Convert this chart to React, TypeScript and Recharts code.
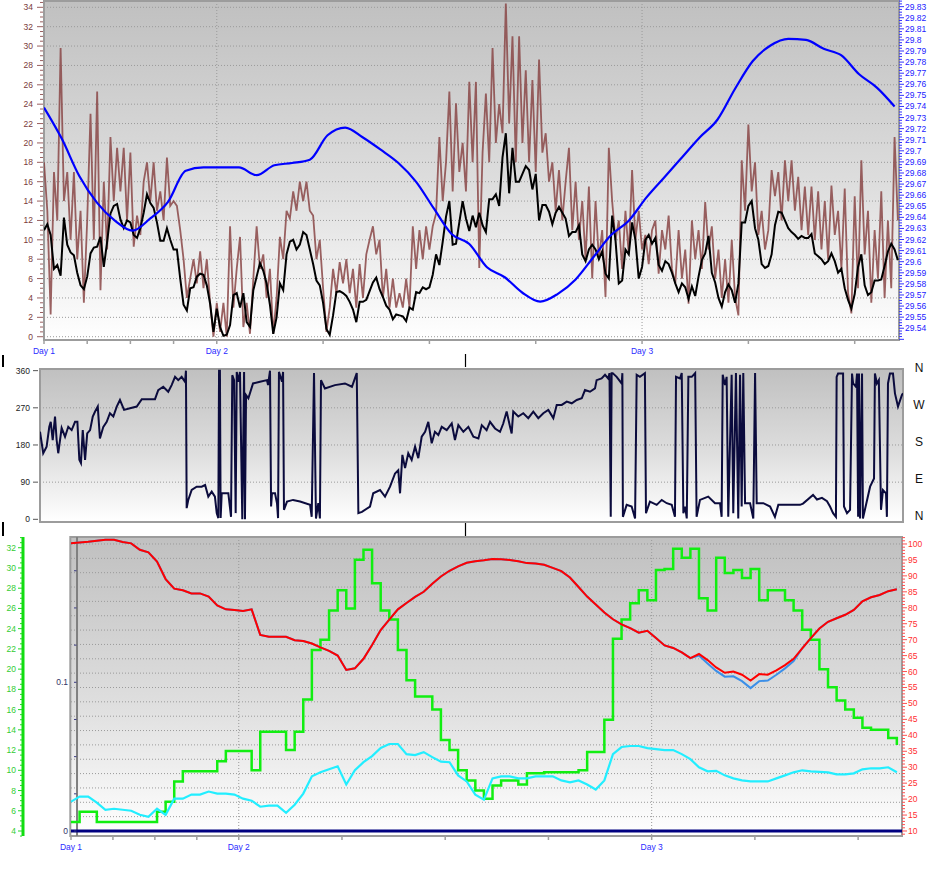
import React from "react"
import { LineChart, Line, XAxis, YAxis, CartesianGrid, ReferenceArea, ReferenceLine } from "recharts"

// time axis is hours since the first sample
const dayTicks = [0, 9.75, 33.75]
const dayLabels = ["Day 1", "Day 2", "Day 3"]
const hourTicks = [0, 2.4375, 4.875, 7.3125, 9.75, 15.75, 21.75, 27.75, 33.75, 39.75, 45.75]

// wind speed (avg + gust), one sample every 0.1875 h
const WIND_STEP = 0.1875
const windAvg = [
  11.0, 11.6, 10.5, 7.0, 7.4, 6.3, 12.3, 9.5, 8.7, 8.4,
  6.6, 5.3, 4.9, 6.2, 8.6, 9.2, 9.3, 10.3, 7.2, 9.8,
  12.7, 13.5, 13.7, 12.1, 11.2, 12.0, 11.8, 10.5, 10.2, 11.2,
  12.8, 14.7, 13.8, 13.3, 11.8, 9.9, 9.9, 11.2, 10.0, 9.0,
  9.0, 6.0, 3.3, 2.7, 5.0, 5.1, 6.2, 6.5, 6.4, 5.3,
  3.4, 0.5, 2.9, 1.0, 0.1, 0.2, 1.2, 4.3, 4.5, 3.0,
  4.5, 1.5, 1.0, 4.8, 6.2, 7.6, 6.8, 5.5, 3.3, 0.3,
  2.0, 5.5, 4.8, 8.5, 9.8, 10.0, 9.0, 9.5, 10.8, 10.5,
  9.0, 7.5, 5.8, 5.3, 3.5, 0.8, 0.2, 2.2, 4.6, 4.7,
  4.5, 4.2, 3.6, 2.8, 1.5, 3.6, 3.6, 3.8, 4.7, 5.6,
  6.1, 4.9, 4.1, 3.2, 2.8, 1.8, 2.3, 2.2, 2.1, 1.6,
  3.0, 2.8, 4.6, 4.5, 5.1, 4.9, 5.1, 6.4, 8.5, 7.4,
  9.8, 12.4, 14.0, 9.5, 9.6, 11.8, 14.0, 12.2, 10.9, 12.5,
  11.3, 12.8, 11.5, 10.8, 14.2, 14.2, 14.7, 13.5, 18.5, 21.0,
  14.8, 19.5, 16.0, 16.0, 16.8, 17.6, 17.2, 15.2, 16.8, 12.0,
  13.6, 13.6, 12.9, 11.6, 12.8, 13.4, 12.8, 12.2, 10.4, 10.8,
  10.8, 11.5, 8.5, 7.8, 9.0, 9.5, 9.0, 8.0, 8.8, 6.5,
  6.0, 12.5, 10.0, 5.5, 5.8, 9.0, 8.5, 11.8, 10.0, 6.0,
  7.2, 10.0, 10.5, 9.6, 10.2, 7.4, 6.8, 7.8, 7.5, 6.6,
  5.5, 4.6, 5.5, 5.1, 3.9, 5.2, 4.2, 6.2, 7.9, 8.6,
  10.4, 6.6, 5.6, 4.0, 3.1, 4.6, 5.4, 4.8, 3.5, 5.5,
  11.8, 11.8, 13.5, 14.0, 11.2, 10.0, 7.5, 7.1, 7.3, 8.5,
  11.5, 12.9, 12.8, 12.0, 11.2, 10.8, 10.5, 10.1, 10.4, 10.2,
  10.2, 10.6, 8.6, 8.3, 8.0, 7.5, 7.8, 8.6, 7.8, 6.6,
  7.0, 5.0, 3.8, 2.9, 4.4, 7.2, 8.5, 5.3, 4.3, 4.6,
  5.8, 5.8, 5.9, 7.3, 8.8, 9.6, 9.0, 7.9,
]
const windGust = [
  18, 13, 2.3, 17, 12, 29.8, 14, 17, 10, 17,
  8, 13, 3.5, 12, 23, 10, 25.3, 4.8, 16, 9,
  20.6, 14, 19.5, 15, 19.5, 12, 19, 9.3, 12.5, 10.5,
  16, 18, 14, 18, 13, 15, 12, 18.5, 13.5, 14,
  13.5, 11, 8, 4, 6, 8, 5.5, 8.8, 5, 8,
  3.5, 0, 3.5, 0.5, 3.5, 0, 11.4, 3, 7, 10.3,
  1, 3.5, 0.3, 6, 11.4, 7, 8.5, 4, 7, 0.3,
  4, 10.3, 8, 13, 12.2, 15, 13, 16, 14, 16,
  13, 12.5, 8, 10, 5, 0.5, 3, 7, 4.5, 7.7,
  5.5, 8, 4.5, 7, 3, 7.5, 4, 8.5, 10, 11.4,
  8.5, 10, 4, 7, 3, 6, 3, 4.5, 3, 6,
  3, 11.4, 7, 11, 8, 11.4, 9, 11.4, 12.7, 20.6,
  14, 18, 25.3, 15, 24.1, 17, 20, 15, 26.3, 18,
  26.3, 7.1, 19, 25.1, 18, 29.8, 20, 24, 21, 34.4,
  22, 31, 18, 31, 20, 27.5, 18, 26.5, 17, 28.6,
  19, 21, 16, 18, 13, 17.2, 12, 16, 19.5, 11,
  16, 10, 14, 8, 15.5, 6, 14, 8, 11, 4.1,
  19.5, 14, 10, 12, 7, 13, 8.5, 17.2, 10, 13,
  9, 10.5, 7.5, 11, 12, 6.5, 11, 9, 12.5, 7,
  5.5, 11, 6, 9, 3.4, 12, 8, 11, 7, 13.9,
  9, 11.4, 6, 9, 4, 8, 3.5, 10, 4, 2.2,
  18.2, 13, 21.9, 15, 18, 10.5, 13, 9, 11, 17.2,
  14.5, 17, 12, 18.2, 14, 18.2, 13, 16.5, 11, 15.5,
  10.5, 15.5, 10, 15, 9, 14, 8, 15.6, 10.5, 13,
  7, 15.3, 4.5, 2.4, 14.5, 5, 18.2, 8.5, 13, 3.5,
  11, 6, 15, 4, 12, 5, 20.6, 12,
]

// barometer, hourly
const PRESSURE_STEP = 1
const pressure = [
  29.739, 29.711, 29.677, 29.653, 29.637, 29.628, 29.639, 29.654, 29.682, 29.685,
  29.685, 29.685, 29.678, 29.687, 29.689, 29.692, 29.714, 29.721, 29.712, 29.701,
  29.689, 29.672, 29.648, 29.625, 29.616, 29.595, 29.586, 29.572, 29.564, 29.571,
  29.584, 29.604, 29.624, 29.637, 29.658, 29.676, 29.694, 29.712, 29.728, 29.756,
  29.781, 29.795, 29.801, 29.8, 29.792, 29.786, 29.769, 29.757, 29.74,
]

// wind direction [hour, degrees]
const windDir: [number, number][] = [
  [0, 212], [0.18, 160], [0.37, 176], [0.52, 224], [0.6, 236], [0.71, 192], [0.84, 249], [0.93, 192], [1.02, 160],
  [1.21, 221], [1.4, 200], [1.58, 224], [1.77, 216], [1.96, 236], [2.09, 236], [2.2, 144], [2.29, 136], [2.39, 216],
  [2.52, 144], [2.64, 208], [2.8, 216], [2.95, 249], [3.08, 261], [3.23, 273], [3.35, 196], [3.54, 224], [3.73, 236],
  [3.91, 257], [4.1, 249], [4.29, 273], [4.47, 289], [4.7, 265], [5.03, 269], [5.41, 273], [5.69, 291], [6.05, 291],
  [6.43, 291], [6.61, 313], [6.89, 321], [7.17, 309], [7.36, 325], [7.55, 345], [7.73, 337], [7.92, 345], [8.11, 333],
  [8.16, 360], [8.2, 27], [8.29, 47], [8.48, 71], [8.76, 79], [9.04, 79], [9.23, 83], [9.41, 55], [9.6, 67], [9.78, 55],
  [9.88, 15], [9.97, 3], [10.01, 360], [10.06, 360], [10.1, 3], [10.16, 63], [10.53, 63], [10.68, 6], [10.75, 349],
  [10.85, 337], [10.94, 15], [11.0, 357], [11.09, 333], [11.18, 357], [11.31, 0], [11.41, 357], [11.46, 0], [11.52, 301],
  [11.65, 293], [11.91, 329], [12.3, 333], [12.69, 337], [12.75, 325], [12.86, 360], [12.92, 31], [12.97, 63], [13.14, 63],
  [13.25, 39], [13.31, 3], [13.36, 357], [13.53, 333], [13.59, 357], [13.64, 23], [13.81, 43], [14.15, 47], [14.54, 43],
  [15.1, 35], [15.19, 6], [15.32, 354], [15.43, 2], [15.56, 39], [15.65, 2], [15.71, 337], [15.93, 317], [16.49, 325],
  [17.05, 329], [17.44, 321], [17.71, 354], [17.8, 15], [18.0, 18], [18.45, 31], [18.63, 63], [19.01, 71], [19.29, 55],
  [19.57, 79], [19.85, 111], [20.03, 119], [20.13, 63], [20.26, 156], [20.41, 124], [20.59, 160], [20.78, 144], [20.97, 176],
  [21.15, 148], [21.34, 200], [21.53, 212], [21.71, 236], [21.9, 184], [22.08, 212], [22.27, 204], [22.46, 224], [22.74, 216],
  [23.02, 232], [23.2, 192], [23.39, 228], [23.67, 212], [23.95, 224], [24.23, 200], [24.51, 196], [24.7, 228], [24.97, 216],
  [25.16, 236], [25.44, 220], [25.72, 212], [25.9, 232], [26.09, 261], [26.28, 224], [26.37, 208], [26.46, 261], [26.74, 249],
  [27.02, 257], [27.3, 245], [27.58, 261], [27.86, 245], [28.14, 257], [28.42, 265], [28.7, 245], [28.89, 277], [29.17, 277],
  [29.45, 285], [29.73, 281], [30.01, 289], [30.29, 293], [30.47, 313], [30.75, 309], [31.03, 317], [31.12, 337], [31.4, 341],
  [31.59, 350], [31.77, 341], [31.84, 354], [31.91, 6], [31.96, 354], [32.02, 354], [32.24, 345], [32.52, 329], [32.56, 354],
  [32.59, 6], [32.8, 35], [33.08, 31], [33.27, 2], [33.36, 350], [33.54, 345], [33.82, 354], [33.88, 15], [34.1, 43],
  [34.48, 35], [34.76, 47], [35.04, 39], [35.32, 35], [35.5, 6], [35.56, 345], [35.78, 341], [35.88, 354], [35.97, 15],
  [36.07, 31], [36.16, 2], [36.25, 345], [36.44, 345], [36.63, 354], [36.71, 6], [36.9, 47], [37.36, 55], [37.74, 39],
  [38.02, 39], [38.11, 6], [38.17, 350], [38.3, 325], [38.39, 345], [38.48, 6], [38.67, 350], [38.76, 15], [38.91, 354],
  [39.04, 2], [39.14, 350], [39.23, 31], [39.32, 354], [39.42, 39], [39.7, 39], [39.88, 2], [39.98, 354], [40.07, 39],
  [40.44, 39], [40.82, 31], [41.09, 6], [41.28, 35], [41.93, 35], [42.49, 35], [42.66, 38], [43.22, 59], [43.44, 48],
  [43.72, 52], [44.0, 44], [44.17, 31], [44.34, 15], [44.5, 6], [44.54, 345], [44.62, 353], [44.9, 353], [44.95, 31],
  [45.12, 15], [45.29, 23], [45.4, 353], [45.46, 329], [45.62, 321], [45.68, 353], [45.74, 6], [45.79, 353], [45.85, 2],
  [45.96, 353], [46.01, 2], [46.41, 79], [46.63, 99], [46.68, 353], [46.79, 329], [46.9, 337], [47.02, 23], [47.13, 71],
  [47.3, 63], [47.35, 6], [47.41, 329], [47.52, 353], [47.69, 353], [47.8, 305], [47.97, 273], [48.19, 301], [48.25, 305],
]
const compassTicks = [0, 90, 180, 270, 360]
const compassLabels = ["N", "E", "S", "W", "N"]

// humidity / temperature / dew point, every half hour
const CLIMATE_STEP = 0.5
const humidity = [
  100.2, 100.5, 100.7, 101.0, 101.3, 101.3, 100.6, 100.2, 98.2, 97.4,
  94.5, 89.0, 86.0, 85.5, 84.5, 84.5, 83.5, 80.7, 79.5, 79.3,
  79.0, 79.5, 71.5, 70.9, 70.9, 70.9, 69.8, 69.6, 68.8, 67.6,
  66.5, 65.0, 60.5, 61.0, 64.0, 68.3, 73.0, 76.3, 79.5, 81.5,
  83.4, 85.0, 87.5, 89.8, 91.6, 93.0, 94.1, 94.6, 94.9, 95.3,
  95.2, 95.0, 94.6, 94.0, 93.9, 93.5, 92.5, 91.5, 89.5, 86.5,
  83.5, 81.0, 78.5, 76.4, 74.8, 73.6, 72.2, 72.8, 70.5, 68.2,
  67.4, 66.0, 64.2, 65.5, 63.6, 61.3, 59.6, 60.0, 59.0, 57.2,
  59.2, 59.0, 60.4, 62.0, 64.0, 67.3, 70.5, 73.5, 75.6, 76.7,
  77.8, 79.3, 82.0, 83.3, 84.0, 85.2, 85.8,
]
const humidityAlt = [
  100.2, 100.5, 100.7, 101.0, 101.3, 101.3, 100.6, 100.2, 98.2, 97.4,
  94.5, 89.0, 86.0, 85.5, 84.5, 84.5, 83.5, 80.7, 79.5, 79.3,
  79.0, 79.5, 71.5, 70.9, 70.9, 70.9, 69.8, 69.6, 68.8, 67.6,
  66.5, 65.0, 60.5, 61.0, 64.0, 68.3, 73.0, 76.3, 79.5, 81.5,
  83.4, 85.0, 87.5, 89.8, 91.6, 93.0, 94.1, 94.6, 94.9, 95.3,
  95.2, 95.0, 94.6, 94.0, 93.9, 93.5, 92.5, 91.5, 89.5, 86.5,
  83.5, 81.0, 78.5, 76.4, 74.8, 73.6, 72.2, 72.8, 70.5, 68.2,
  67.4, 66.0, 64.2, 65.0, 62.5, 60.2, 58.4, 58.5, 57.0, 54.8,
  57.0, 57.2, 59.0, 61.0, 63.3, 67.3, 70.5, 73.5, 75.6, 76.7,
  77.8, 79.3, 82.0, 83.3, 84.0, 85.2, 85.8,
]
const temperature = [
  4.9, 5.9, 5.9, 4.9, 4.9, 4.9, 4.9, 4.9, 4.9, 4.9,
  5.9, 6.9, 8.9, 9.9, 9.9, 9.9, 9.9, 10.9, 11.9, 11.9,
  11.9, 10.0, 13.8, 13.8, 13.8, 12.0, 13.8, 17.0, 21.9, 22.9,
  25.8, 27.8, 26.0, 30.8, 31.8, 28.5, 25.8, 24.9, 21.9, 18.9,
  17.3, 17.3, 16.0, 13.0, 12.0, 10.0, 9.0, 8.0, 7.2, 8.5,
  9.0, 9.0, 8.6, 9.7, 9.7, 9.8, 9.8, 9.8, 9.8, 10.0,
  11.8, 11.8, 15.0, 23.0, 24.9, 26.5, 27.8, 26.8, 29.8, 29.9,
  31.9, 31.0, 31.9, 27.0, 25.8, 31.0, 29.5, 29.8, 29.0, 29.9,
  26.8, 27.8, 27.8, 26.8, 25.8, 23.9, 22.9, 20.0, 18.2, 16.9,
  16.0, 15.2, 14.2, 14.0, 14.0, 13.2, 12.5,
]
const dewPoint = [
  6.9, 7.4, 7.4, 6.8, 6.1, 6.2, 6.1, 6.0, 5.6, 5.4,
  6.2, 5.6, 7.2, 7.2, 7.6, 7.6, 7.9, 7.7, 7.7, 7.6,
  7.2, 7.0, 6.4, 6.5, 6.5, 5.8, 6.6, 7.7, 9.4, 9.8,
  10.1, 10.4, 8.6, 10.0, 10.8, 11.4, 12.2, 12.6, 12.6, 11.6,
  11.5, 11.8, 11.3, 10.85, 10.8, 9.5, 8.9, 7.6, 7.1, 9.2,
  9.4, 9.4, 9.2, 9.2, 9.4, 9.4, 9.4, 9.0, 8.8, 9.0,
  8.6, 8.1, 9.0, 11.6, 12.3, 12.4, 12.4, 12.2, 12.1, 12.0,
  12.0, 11.6, 11.1, 10.3, 9.9, 9.95, 9.5, 9.2, 9.0, 8.9,
  8.9, 8.9, 9.2, 9.5, 9.8, 10.0, 9.9, 9.85, 9.8, 9.6,
  9.6, 9.7, 10.1, 10.2, 10.2, 10.3, 9.8,
]
// rain [hour, inches]
const rain: [number, number][] = [[0, 0], [12, 0], [24, 0], [36, 0], [48.3, 0]]

const series = (vals: number[], step: number) => vals.map((v, i) => ({ t: +(i * step).toFixed(4), v }))
const pairs = (p: [number, number][]) => p.map(([t, v]) => ({ t, v }))
const range = (a: number, b: number, s: number) => {
  const out: number[] = []
  for (let k = 0; a + k * s <= b + 1e-9; k++) out.push(+(a + k * s).toFixed(4))
  return out
}
const near = (v: number, s: number) => Math.abs(v / s - Math.round(v / s)) < 1e-6

type TickOpts = {
  major: (v: number) => boolean
  label: (v: number) => string | null
  textX: number
  anchor: "start" | "end" | "middle"
  tick?: [number, number]
  minor?: [number, number]
  color: string
  tickColor?: string
  fontSize?: number
  dy?: number
}

const makeYTick = (o: TickOpts) => (props: any) => {
  const { y, payload } = props
  const v = payload.value
  const isMajor = o.major(v)
  const seg = isMajor ? o.tick : o.minor
  const text = isMajor ? o.label(v) : null
  return (
    <g>
      {seg && <line x1={seg[0]} x2={seg[1]} y1={y} y2={y} stroke={o.tickColor} strokeWidth={1} />}
      {text != null && (
        <text x={o.textX} y={y} dy={o.dy ?? 3} textAnchor={o.anchor} fontSize={o.fontSize ?? 8.5} fill={o.color}>
          {text}
        </text>
      )}
    </g>
  )
}

const makeXTick = (y0: number) => (props: any) => {
  const { x, payload } = props
  const i = dayTicks.findIndex((d) => Math.abs(d - payload.value) < 1e-6)
  return (
    <g>
      <line x1={x} x2={x} y1={y0} y2={y0 + 4} stroke="#a0a0a0" strokeWidth={1.5} />
      {i >= 0 && (
        <text x={x} y={y0 + 14} textAnchor="middle" fontSize={8.5} fill="#2b2bff">
          {dayLabels[i]}
        </text>
      )}
    </g>
  )
}

const Gradient = ({ id }: { id: string }) => (
  <defs>
    <linearGradient id={id} x1="0" y1="0" x2="0" y2="1">
      <stop offset="0%" stopColor="#c0c0c0" />
      <stop offset="55%" stopColor="#dedede" />
      <stop offset="100%" stopColor="#ffffff" />
    </linearGradient>
  </defs>
)

const TOP_X: [number, number] = [0, 48.25]
const TOP_WIND: [number, number] = [-0.34, 34.65]
const TOP_PRESS: [number, number] = [29.5294, 29.8351]
const MID_DIR: [number, number] = [-6.5, 364]
const BOT_X: [number, number] = [0, 48.3]
const BOT_TEMP: [number, number] = [3.506, 33.06]
const BOT_INNER: [number, number] = [-0.00336, 0.1977]
const BOT_HUM: [number, number] = [8.43, 102.19]

const lineBase = { dot: false, activeDot: false, isAnimationActive: false, dataKey: "v" } as const

function TopChart() {
  return (
    <LineChart width={949} height={360} margin={{ top: 1, right: 0, bottom: 0, left: 0 }}>
      <Gradient id="bgTop" />
      <CartesianGrid
        yAxisId="wind"
        fill="url(#bgTop)"
        fillOpacity={1}
        stroke="#9a9a9a"
        strokeDasharray="1 2"
        horizontalValues={range(0, 34, 2)}
        verticalValues={[9.75, 33.75]}
      />
      <XAxis type="number" dataKey="t" domain={TOP_X} allowDataOverflow ticks={hourTicks} interval={0}
        tick={makeXTick(340)} tickLine={false} axisLine={false} height={20} />
      <YAxis yAxisId="wind" domain={TOP_WIND} allowDataOverflow ticks={range(0, 34.5, 0.5)} interval={0} width={44}
        tickLine={false} axisLine={false}
        tick={makeYTick({ major: (v) => near(v, 2), label: (v) => String(v), textX: 33, anchor: "end",
          tick: [37, 43], minor: [40, 43], color: "#7a3a3a", tickColor: "#9a6060" })} />
      <YAxis yAxisId="press" orientation="right" domain={TOP_PRESS} allowDataOverflow ticks={range(29.53, 29.835, 0.0025)}
        interval={0} width={50} tickLine={false} axisLine={false}
        tick={makeYTick({ major: (v) => near(v, 0.01), label: (v) => (v < 29.535 ? null : String(+v.toFixed(2))),
          textX: 905, anchor: "start", tick: [899, 904], minor: [899, 902], color: "#2222ff", tickColor: "#3333ff" })} />
      <ReferenceArea yAxisId="wind" x1={TOP_X[0]} x2={TOP_X[1]} y1={TOP_WIND[0]} y2={TOP_WIND[1]}
        fill="none" stroke="#9c9c9c" strokeWidth={2} ifOverflow="visible" />
      <Line {...lineBase} yAxisId="wind" data={series(windGust, WIND_STEP)} type="linear"
        stroke="#8a4646" strokeOpacity={0.85} strokeWidth={1.8} />
      <Line {...lineBase} yAxisId="wind" data={series(windAvg, WIND_STEP)} type="linear" stroke="#000000" strokeWidth={2} />
      <Line {...lineBase} yAxisId="press" data={series(pressure, PRESSURE_STEP)} type="monotone" stroke="#0000ff" strokeWidth={2.2} />
    </LineChart>
  )
}

function MiddleChart() {
  return (
    <LineChart width={949} height={170} margin={{ top: 9, right: 0, bottom: 8, left: 0 }}>
      <Gradient id="bgMid" />
      <CartesianGrid yAxisId="dir" fill="url(#bgMid)" fillOpacity={1} stroke="#9a9a9a" strokeDasharray="1 2"
        horizontalValues={[90, 180, 270]} vertical={false} />
      <XAxis type="number" dataKey="t" domain={TOP_X} allowDataOverflow hide />
      <YAxis yAxisId="dir" domain={MID_DIR} allowDataOverflow ticks={compassTicks} interval={0} width={40}
        tickLine={false} axisLine={false}
        tick={makeYTick({ major: () => true, label: (v) => String(v), textX: 30, anchor: "end",
          tick: [33, 38], color: "#222222", tickColor: "#555555" })} />
      <YAxis yAxisId="dirR" orientation="right" domain={MID_DIR} allowDataOverflow ticks={compassTicks} interval={0}
        width={46} tickLine={false} axisLine={false}
        tick={makeYTick({ major: () => true, label: (v) => compassLabels[compassTicks.indexOf(v)] ?? null,
          textX: 919, anchor: "middle", color: "#111111", fontSize: 12, dy: 1 })} />
      <ReferenceArea yAxisId="dirR" x1={TOP_X[0]} x2={TOP_X[1]} y1={MID_DIR[0]} y2={MID_DIR[1]}
        fill="none" stroke="#9c9c9c" strokeWidth={2} ifOverflow="visible" />
      <Line {...lineBase} yAxisId="dir" data={pairs(windDir)} type="linear" stroke="#0b0b3d" strokeWidth={2} />
    </LineChart>
  )
}

function BottomChart() {
  return (
    <LineChart width={949} height={351} margin={{ top: 7, right: 0, bottom: 25, left: 0 }}>
      <Gradient id="bgBot" />
      <CartesianGrid yAxisId="hum" fill="url(#bgBot)" fillOpacity={1} stroke="#9a9a9a" strokeDasharray="1 2"
        horizontalValues={range(10, 100, 4.5)} verticalValues={[9.75, 33.75]} />
      <XAxis type="number" dataKey="t" domain={BOT_X} allowDataOverflow ticks={hourTicks} interval={0}
        tick={makeXTick(306)} tickLine={false} axisLine={false} height={20} />
      <YAxis yAxisId="inner" domain={BOT_INNER} allowDataOverflow ticks={range(0, 0.175, 0.025)} interval={0} width={48}
        tickLine={false} axisLine={false}
        tick={makeYTick({ major: () => true, label: (v) => (v === 0 ? "0" : near(v, 0.1) ? "0.1" : null),
          textX: 68, anchor: "end", tick: [74, 76.5], color: "#333366", tickColor: "#3a3a80" })} />
      <YAxis yAxisId="temp" domain={BOT_TEMP} allowDataOverflow ticks={range(3.5, 33, 0.5)} interval={0} width={23}
        tickLine={false} axisLine={{ stroke: "#11dd11", strokeWidth: 3 }}
        tick={makeYTick({ major: (v) => near(v, 2) && v >= 4 && v <= 32, label: (v) => String(v), textX: 16, anchor: "end",
          tick: [18, 22], minor: [20, 22], color: "#33cc33", tickColor: "#22dd22" })} />
      <YAxis yAxisId="hum" orientation="right" domain={BOT_HUM} allowDataOverflow ticks={range(9, 102, 1)} interval={0}
        width={47} tickLine={false} axisLine={false}
        tick={makeYTick({ major: (v) => near(v, 5) && v >= 10 && v <= 100, label: (v) => String(v), textX: 908,
          anchor: "start", tick: [902, 907], minor: [902, 905], color: "#ff3030", tickColor: "#ff5050" })} />
      <ReferenceArea yAxisId="hum" x1={BOT_X[0] - 0.04} x2={BOT_X[1]} y1={BOT_HUM[0]} y2={BOT_HUM[1]}
        fill="none" stroke="#9c9c9c" strokeWidth={2} ifOverflow="visible" />
      <ReferenceLine yAxisId="hum" x={0.35} stroke="#808080" strokeWidth={2} ifOverflow="visible" />
      <Line {...lineBase} yAxisId="temp" data={series(temperature, CLIMATE_STEP)} type="stepAfter" stroke="#11ee11" strokeWidth={2.5} />
      <Line {...lineBase} yAxisId="temp" data={series(dewPoint, CLIMATE_STEP)} type="linear" stroke="#22eeff" strokeWidth={2.2} />
      <Line {...lineBase} yAxisId="hum" data={series(humidityAlt, CLIMATE_STEP)} type="linear" stroke="#3b8fe8" strokeWidth={2} />
      <Line {...lineBase} yAxisId="hum" data={series(humidity, CLIMATE_STEP)} type="linear" stroke="#ff0000" strokeWidth={2} />
      <Line {...lineBase} yAxisId="inner" data={pairs(rain)} type="linear" stroke="#000080" strokeWidth={3} />
    </LineChart>
  )
}

export default function App() {
  return (
    <div style={{ position: "absolute", left: 0, top: 0, width: 949, height: 881, background: "#ffffff",
      fontFamily: '"Liberation Sans", Arial, sans-serif', overflow: "hidden" }}>
      <div style={{ position: "absolute", left: 0, top: 0 }}><TopChart /></div>
      <div style={{ position: "absolute", left: 0, top: 360 }}><MiddleChart /></div>
      <div style={{ position: "absolute", left: 0, top: 530 }}><BottomChart /></div>
      {/* cursor marks between panels */}
      <svg width={949} height={881} style={{ position: "absolute", left: 0, top: 0, pointerEvents: "none" }}>
        <line x1={3} x2={3} y1={355} y2={367} stroke="#000" strokeWidth={2} />
        <line x1={3} x2={3} y1={522} y2={536} stroke="#000" strokeWidth={2} />
        <line x1={465.5} x2={465.5} y1={354} y2={367} stroke="#000" strokeWidth={1.2} />
        <line x1={465.5} x2={465.5} y1={523} y2={536} stroke="#000" strokeWidth={1.2} />
      </svg>
    </div>
  )
}
